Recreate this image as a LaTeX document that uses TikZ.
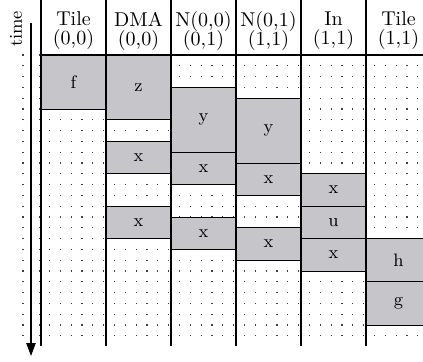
\documentclass[tikz,border=0pt]{standalone}
\usetikzlibrary{arrows.meta}
\definecolor{blkgray}{RGB}{198,197,201}
\tikzset{
  blk/.style = {draw, fill=blkgray, minimum width=32.5pt, inner sep=0pt, font=\small, line width=0.5pt},
  dotrow/.style = {draw=black!75, line width=0.6pt, dash pattern=on 0.6pt off 4.8pt},
  head/.style = {align=center, inner sep=0pt},
  lane/.style = {line width=0.6pt}
}
\begin{document}
\begin{tikzpicture}[x=0.5pt, y=-0.5pt]
  \useasboundingbox (0,0) rectangle (423,361);
  \clip (0,0) rectangle (423,361);

  % dotted time grid
  \foreach \r in {0,...,26} {
    \draw[dotrow, dash pattern=on 0.6pt off 3.55pt] (22.4,55+10.8*\r) -- (41,55+10.8*\r);
  }
  \foreach \r in {1,...,26} {
    \foreach \c in {0,...,5} {
      \draw[dotrow] (49+65*\c,55+10.8*\r) -- (106+65*\c,55+10.8*\r);
    }
  }

  % column heads
  \node[head] (hd1) at (73.5,31) {Tile\\[-2.5pt](0,0)};
  \node[head] (hd2) at (138.5,31) {DMA\\[-2.5pt](0,0)};
  \node[head] (hd3) at (203.5,31) {N(0,0)\\[-2.5pt](0,1)};
  \node[head] (hd4) at (268.5,31) {N(0,1)\\[-2.5pt](1,1)};
  \node[head] (hd5) at (333.5,31) {In\\[-2.5pt](1,1)};
  \node[head] (hd6) at (398.5,31) {Tile\\[-2.5pt](1,1)};

  % busy blocks
  \node[blk, minimum height=27pt] (f) at (73.5,82) {f};
  \node[blk, minimum height=32.4pt] (z) at (138.5,87.4) {z};
  \node[blk, minimum height=16.2pt] (dx1) at (138.5,157.6) {x};
  \node[blk, minimum height=16.2pt] (dx2) at (138.5,222.4) {x};
  \node[blk, minimum height=32.4pt] (ya) at (203.5,119.8) {y};
  \node[blk, minimum height=16.2pt] (nax1) at (203.5,168.4) {x};
  \node[blk, minimum height=16.2pt] (nax2) at (203.5,233.2) {x};
  \node[blk, minimum height=32.4pt] (yb) at (268.5,130.6) {y};
  \node[blk, minimum height=16.2pt] (nbx1) at (268.5,179.2) {x};
  \node[blk, minimum height=16.2pt] (nbx2) at (268.5,244) {x};
  \node[blk, minimum height=16.2pt] (inx1) at (333.5,190) {x};
  \node[blk, minimum height=16.2pt] (inu) at (333.5,222.4) {u};
  \node[blk, minimum height=16.2pt] (inx2) at (333.5,254.8) {x};
  \node[blk, minimum height=21.6pt] (h) at (398.5,260.2) {h};
  \node[blk, minimum height=21.6pt] (g) at (398.5,303.4) {g};

  % lanes
  \foreach \c in {0,...,5} {
    \draw[lane] (41+65*\c,0) -- (41+65*\c,346);
  }
  \draw[lane] (41,55) -- (431,55);

  % time axis
  \node[rotate=90, font=\small] (time) at (16,29) {time};
  \coordinate (tstart) at (31,23);
  \coordinate (tend) at (31,356);
  \draw[lane, -{Triangle[length=6.5pt, width=4.7pt]}] (tstart) -- (tend);
\end{tikzpicture}
\end{document}
